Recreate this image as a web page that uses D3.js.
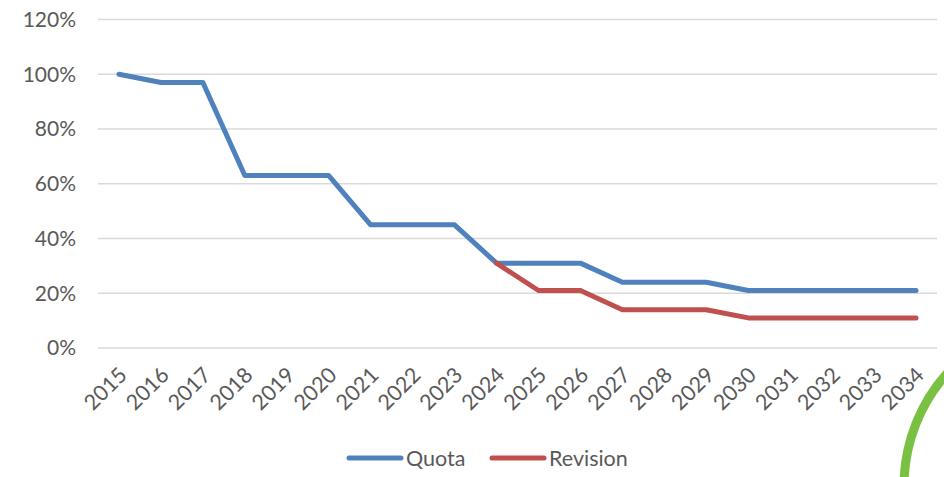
<!DOCTYPE html>
<html>
<head>
<meta charset="utf-8">
<script src="https://cdn.jsdelivr.net/npm/d3@7"></script>
<style>
  body { margin: 0; background: #fff; }
  svg { display: block; font-family: Lato, "Open Sans", sans-serif; }
</style>
</head>
<body>
<div id="chart"></div>
<script>
// chart data
var years = ["2015","2016","2017","2018","2019","2020","2021","2022","2023","2024",
             "2025","2026","2027","2028","2029","2030","2031","2032","2033","2034"];
var quota = [100, 97, 97, 63, 63, 63, 45, 45, 45, 31, 31, 31, 24, 24, 24, 21, 21, 21, 21, 21];
// revision only starts at 2024
var revision = [null, null, null, null, null, null, null, null, null, 31,
                21, 21, 14, 14, 14, 11, 11, 11, 11, 11];
var yTicks = [0, 20, 40, 60, 80, 100, 120];
var seriesNames = ["Quota", "Revision"];
var seriesColors = ["#4F81BD", "#C0504D"];

var width = 944, height = 477;
var plotLeft = 98, plotRight = 937, plotTop = 19.5, plotBottom = 348;
var fontSize = "21px";

var svg = d3.select("#chart").append("svg")
  .attr("width", width)
  .attr("height", height);

var x = d3.scalePoint()
  .domain(years)
  .range([plotLeft, plotRight])
  .padding(0.5);

var y = d3.scaleLinear()
  .domain([0, 120])
  .range([plotBottom, plotTop]);

// horizontal gridlines
svg.append("g")
  .selectAll("line")
  .data(yTicks)
  .enter().append("line")
  .attr("x1", plotLeft)
  .attr("x2", plotRight)
  .attr("y1", d => y(d))
  .attr("y2", d => y(d))
  .attr("stroke", "#d9d9d9")
  .attr("stroke-width", 1.5);

// y labels
svg.append("g")
  .selectAll("text")
  .data(yTicks)
  .enter().append("text")
  .attr("x", 76)
  .attr("y", d => y(d))
  .attr("dy", "0.35em")
  .attr("text-anchor", "end")
  .attr("fill", "#595959")
  .style("font-size", fontSize)
  .text(d => d + "%");

// x labels, rotated
svg.append("g")
  .selectAll("text")
  .data(years)
  .enter().append("text")
  .attr("transform", d => "translate(" + (x(d) + 4) + ",371) rotate(-45)")
  .attr("text-anchor", "end")
  .attr("dy", "0.35em")
  .attr("fill", "#595959")
  .style("font-size", "21.5px")
  .text(d => d);

var line = d3.line()
  .defined(d => d.v !== null)
  .x(d => x(d.year))
  .y(d => y(d.v));

[quota, revision].forEach(function(values, i) {
  var pts = years.map((yr, j) => ({ year: yr, v: values[j] }));
  svg.append("path")
    .datum(pts)
    .attr("d", line)
    .attr("fill", "none")
    .attr("stroke", seriesColors[i])
    .attr("stroke-width", 5)
    .attr("stroke-linecap", "round")
    .attr("stroke-linejoin", "round");
});

// legend
var legendX = [347, 490];
var legend = svg.append("g")
  .selectAll("g")
  .data(seriesNames)
  .enter().append("g")
  .attr("transform", (d, i) => "translate(" + legendX[i] + ",458)");
legend.append("line")
  .attr("x1", 2).attr("x2", 54)
  .attr("stroke", (d, i) => seriesColors[i])
  .attr("stroke-width", 5)
  .attr("stroke-linecap", "round");
legend.append("text")
  .attr("x", 59)
  .attr("dy", "0.35em")
  .attr("fill", "#595959")
  .style("font-size", "21.5px")
  .text(d => d);

// green arc decoration in the corner
svg.append("circle")
  .attr("cx", 1073)
  .attr("cy", 486)
  .attr("r", 169)
  .attr("fill", "none")
  .attr("stroke", "#7AC143")
  .attr("stroke-width", 9);
</script>
</body>
</html>
